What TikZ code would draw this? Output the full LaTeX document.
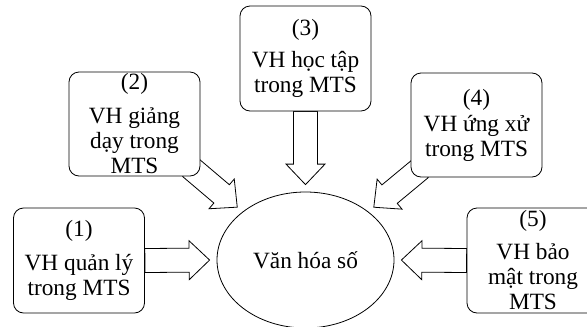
\documentclass[tikz,border=0pt]{standalone}
\usepackage{fontspec}
\setmainfont{Liberation Serif}
\usetikzlibrary{calc,backgrounds,shapes.geometric}

\newcommand{\fatarrow}[2]{%
  \coordinate (h) at ($(#2)!20.5pt!(#1)$);
  \draw[fat] ($(#1)!12pt!90:(#2)$) -- ($(h)!12pt!90:(#2)$) -- ($(h)!19.5pt!90:(#2)$) -- (#2)
    -- ($(h)!19.5pt!-90:(#2)$) -- ($(h)!12pt!-90:(#2)$) -- ($(#1)!12pt!-90:(#2)$) -- cycle;
}

\begin{document}
\begin{tikzpicture}[x=1pt,y=-1pt,
  font=\fontsize{23.3}{25}\selectfont,
  box/.style={draw,fill=white,rounded corners=10pt,line width=0.8pt,
    minimum width=131pt,minimum height=105pt,inner sep=0pt,align=center},
  fat/.style={draw,fill=white,line width=0.8pt,line join=miter}]
\useasboundingbox (0,0) rectangle (587,327);
\clip (0,0) rectangle (587,327);

\node[box] (q1) at (79,260.5) {(1)\\[9pt]VH quản lý\\trong MTS};
\node[box,minimum height=104pt] (q2) at (134.5,124) {(2)\\[9pt]VH giảng\\dạy trong\\MTS};
\node[box] (q3) at (305.5,58.5) {(3)\\[7pt]VH học tập\\trong MTS};
\node[box,minimum height=104pt] (q4) at (476.5,125) {(4)\\[1pt]VH ứng xử\\trong MTS};
\node[box,minimum width=132pt] (q5) at (533,260.5) {(5)\\[8pt]VH bảo\\mật trong\\MTS};
\node[draw,ellipse,line width=0.8pt,minimum width=177pt,minimum height=136pt] (dig) at (305.5,260) {Văn hóa số};

\coordinate (t1) at ($(dig.west)!7pt!(q1.east)$);
\coordinate (s2) at ($(q2.south east)+(-10,-9)$);
\coordinate (t2) at ($(dig.north west)!7pt!(q2.south east)$);
\coordinate (t3) at ($(dig.north)!7pt!(q3.south)$);
\coordinate (s4) at ($(q4.south west)+(10,-9)$);
\coordinate (t4) at ($(dig.north east)!7pt!(q4.south west)$);
\coordinate (t5) at ($(dig.east)!7pt!(q5.west)$);

\begin{pgfonlayer}{background}
\fatarrow{q1.east}{t1}
\fatarrow{s2}{t2}
\fatarrow{q3.south}{t3}
\fatarrow{s4}{t4}
\fatarrow{q5.west}{t5}
\end{pgfonlayer}
\end{tikzpicture}
\end{document}
